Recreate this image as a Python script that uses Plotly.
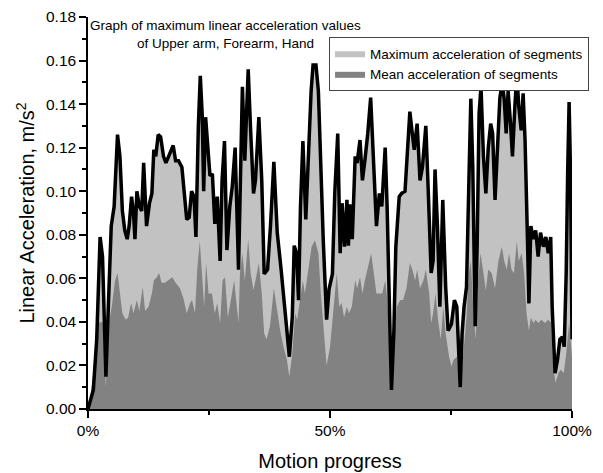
import plotly.graph_objects as go

# ---- data (Motion progress in %, acceleration in m/s^2) ----
max_progress = [0.0, 0.4, 1.1, 1.8, 2.2, 2.5, 3.0, 3.7, 4.2, 4.8, 5.4, 6.1, 6.6, 7.1, 7.6, 8.1, 8.5, 9.0, 9.4, 9.7,
                10.1, 10.6, 11.1, 11.5, 12.1, 12.7, 13.2, 13.6, 14.0, 14.5, 15.0, 15.6, 16.1, 16.6, 17.1, 17.6, 18.1,
                18.7, 19.4, 19.9, 20.4, 20.9, 21.4, 21.9, 22.3, 22.8, 23.2, 23.6, 23.9, 24.3, 24.9, 25.2, 25.7, 26.2,
                26.7, 27.3, 27.7, 28.2, 28.7, 29.3, 29.8, 30.4, 31.1, 31.4, 31.9, 32.4, 33.1, 33.6, 34.2, 34.6, 35.3,
                35.9, 36.4, 37.1, 37.7, 38.4, 39.1, 39.9, 40.7, 41.6, 42.2, 42.6, 43.1, 43.5, 43.9, 44.4, 45.0, 45.5,
                46.1, 46.5, 47.1, 47.6, 48.1, 48.6, 49.3, 49.8, 50.5, 51.0, 51.6, 52.1, 52.5, 53.0, 53.5, 53.8, 54.1,
                54.6, 55.2, 55.6, 56.2, 56.7, 57.2, 57.8, 58.4, 58.9, 59.6, 60.2, 60.7, 61.4, 61.8, 62.4, 62.7, 63.2,
                63.6, 64.3, 64.8, 65.5, 66.1, 66.5, 67.0, 67.4, 68.0, 68.6, 69.1, 69.8, 70.3, 70.9, 71.3, 71.7, 72.2,
                72.7, 73.3, 73.9, 74.4, 75.1, 75.7, 76.2, 76.9, 77.3, 77.7, 78.2, 78.7, 79.1, 79.5, 80.0, 80.4, 80.8,
                81.2, 81.7, 82.2, 82.7, 83.2, 83.6, 84.1, 84.6, 85.1, 85.6, 86.0, 86.4, 86.8, 87.3, 87.7, 88.2, 88.6,
                89.0, 89.5, 89.9, 90.3, 90.8, 91.1, 91.5, 92.0, 92.5, 93.0, 93.5, 94.1, 94.6, 95.1, 95.6, 95.9, 96.5,
                97.0, 97.5, 98.0, 98.4, 98.8, 99.1, 99.4, 99.7, 100.0]
max_accel = [0.000, 0.003, 0.0087, 0.032, 0.060, 0.079, 0.070, 0.0148, 0.047, 0.084, 0.093, 0.126, 0.116, 0.091,
             0.082, 0.078, 0.084, 0.0975, 0.090, 0.078, 0.100, 0.093, 0.091, 0.113, 0.084, 0.0945, 0.099, 0.119,
             0.116, 0.126, 0.125, 0.116, 0.113, 0.116, 0.119, 0.121, 0.114, 0.114, 0.111, 0.100, 0.087, 0.088,
             0.100, 0.0975, 0.079, 0.130, 0.153, 0.135, 0.100, 0.134, 0.112, 0.107, 0.108, 0.085, 0.0975, 0.068,
             0.105, 0.123, 0.073, 0.093, 0.102, 0.120, 0.064, 0.090, 0.148, 0.114, 0.156, 0.128, 0.099, 0.105,
             0.134, 0.105, 0.062, 0.064, 0.084, 0.1135, 0.081, 0.064, 0.044, 0.024, 0.042, 0.075, 0.0715, 0.050,
             0.093, 0.123, 0.087, 0.116, 0.146, 0.158, 0.158, 0.146, 0.111, 0.078, 0.041, 0.055, 0.062, 0.100,
             0.1265, 0.0715, 0.0945, 0.0745, 0.096, 0.075, 0.094, 0.078, 0.116, 0.113, 0.1235, 0.105, 0.114,
             0.1265, 0.143, 0.119, 0.084, 0.099, 0.093, 0.120, 0.093, 0.035, 0.0087, 0.036, 0.0745, 0.0975, 0.099,
             0.100, 0.119, 0.1365, 0.1265, 0.119, 0.131, 0.105, 0.111, 0.130, 0.100, 0.0625, 0.068, 0.110, 0.084,
             0.047, 0.096, 0.056, 0.036, 0.039, 0.050, 0.047, 0.010, 0.035, 0.047, 0.056, 0.105, 0.1425, 0.111,
             0.038, 0.0745, 0.1355, 0.148, 0.116, 0.099, 0.120, 0.131, 0.1265, 0.096, 0.1235, 0.143, 0.150, 0.142,
             0.1265, 0.146, 0.131, 0.116, 0.139, 0.154, 0.139, 0.128, 0.145, 0.1235, 0.078, 0.0485, 0.084, 0.078,
             0.082, 0.070, 0.081, 0.0745, 0.079, 0.0715, 0.079, 0.047, 0.0164, 0.0225, 0.032, 0.033, 0.0286,
             0.0625, 0.108, 0.141, 0.108, 0.032]

mean_progress = [0.0, 0.4, 1.1, 1.8, 2.1, 2.7, 3.2, 3.7, 4.2, 4.9, 5.6, 6.1, 6.6, 7.1, 7.8, 8.3, 8.9, 9.4, 10.1,
                 10.6, 11.3, 11.8, 12.5, 13.2, 13.6, 14.2, 14.7, 15.2, 15.9, 16.6, 17.4, 18.1, 19.0, 19.7, 20.4,
                 21.1, 21.5, 22.1, 22.6, 23.1, 23.6, 24.0, 24.4, 24.9, 25.6, 26.2, 26.7, 27.3, 27.8, 28.3, 28.9,
                 29.5, 30.2, 31.1, 31.4, 31.9, 32.4, 33.1, 33.6, 34.2, 34.9, 35.3, 35.9, 36.4, 36.9, 37.6, 38.4,
                 39.0, 39.7, 40.4, 41.1, 41.6, 42.2, 42.8, 43.2, 43.8, 44.4, 44.8, 45.5, 46.2, 46.9, 47.6, 48.1,
                 48.8, 49.3, 50.0, 50.7, 51.4, 51.9, 52.4, 52.9, 53.5, 53.9, 54.5, 55.2, 55.6, 56.2, 56.7, 57.2,
                 57.9, 58.5, 58.9, 59.6, 60.3, 60.8, 61.4, 61.8, 62.4, 62.7, 63.2, 63.8, 64.5, 65.1, 65.8, 66.5,
                 67.0, 67.6, 68.0, 68.6, 69.3, 69.8, 70.5, 70.9, 71.3, 71.8, 72.4, 72.9, 73.4, 73.9, 74.6, 75.1,
                 75.5, 76.2, 76.9, 77.5, 78.2, 78.7, 79.1, 79.6, 80.1, 80.6, 81.1, 81.7, 82.2, 82.7, 83.4, 84.1,
                 84.8, 85.5, 86.0, 86.5, 87.0, 87.5, 88.0, 88.6, 89.0, 89.6, 90.1, 90.6, 91.1, 91.5, 92.0, 92.5,
                 93.0, 93.7, 94.4, 95.1, 95.7, 96.1, 96.6, 97.2, 97.7, 98.3, 98.8, 99.4, 99.9, 100.0]
mean_accel = [0.000, 0.004, 0.0165, 0.035, 0.0395, 0.040, 0.0395, 0.010, 0.038, 0.047, 0.059, 0.0625, 0.053, 0.044,
              0.041, 0.042, 0.0487, 0.044, 0.050, 0.045, 0.056, 0.045, 0.047, 0.053, 0.059, 0.0605, 0.0625, 0.058,
              0.058, 0.059, 0.0605, 0.058, 0.0555, 0.051, 0.044, 0.0487, 0.050, 0.044, 0.065, 0.077, 0.0625, 0.047,
              0.067, 0.053, 0.053, 0.044, 0.0487, 0.0395, 0.059, 0.0605, 0.042, 0.050, 0.059, 0.0395, 0.0625,
              0.0715, 0.059, 0.078, 0.0625, 0.0545, 0.0625, 0.067, 0.053, 0.0347, 0.032, 0.038, 0.0555, 0.047,
              0.036, 0.0285, 0.0225, 0.0148, 0.0255, 0.044, 0.041, 0.050, 0.059, 0.053, 0.065, 0.0745, 0.0775,
              0.0715, 0.053, 0.0347, 0.020, 0.0285, 0.044, 0.0625, 0.047, 0.0487, 0.042, 0.047, 0.044, 0.047,
              0.059, 0.0555, 0.0605, 0.053, 0.059, 0.065, 0.0715, 0.065, 0.053, 0.053, 0.053, 0.059, 0.051,
              0.0285, 0.0087, 0.032, 0.047, 0.050, 0.050, 0.0555, 0.067, 0.064, 0.059, 0.064, 0.0555, 0.059,
              0.064, 0.053, 0.0395, 0.044, 0.053, 0.0395, 0.032, 0.047, 0.0347, 0.024, 0.0195, 0.0225, 0.024,
              0.0087, 0.0225, 0.042, 0.0625, 0.068, 0.047, 0.032, 0.059, 0.0715, 0.0625, 0.0545, 0.064, 0.0625,
              0.0555, 0.068, 0.0745, 0.068, 0.064, 0.0715, 0.064, 0.0625, 0.077, 0.068, 0.0715, 0.0625, 0.044,
              0.036, 0.042, 0.0395, 0.041, 0.0395, 0.041, 0.0395, 0.041, 0.0395, 0.0195, 0.012, 0.0165, 0.018,
              0.0165, 0.0255, 0.0395, 0.024, 0.024]

y_ticks = [0.00, 0.02, 0.04, 0.06, 0.08, 0.10, 0.12, 0.14, 0.16, 0.18]
x_ticks = [0, 50, 100]
x_tick_labels = ["0%", "50%", "100%"]

FONT = "Arial, Liberation Sans, sans-serif"
LIGHT = "#c2c2c2"
DARK = "#828282"

fig = go.Figure()
fig.add_trace(go.Scatter(x=max_progress, y=max_accel, mode="lines", fill="tozeroy",
                         fillcolor=LIGHT, line=dict(width=0, color=LIGHT),
                         name="Maximum acceleration of segments"))
fig.add_trace(go.Scatter(x=mean_progress, y=mean_accel, mode="lines", fill="tozeroy",
                         fillcolor=DARK, line=dict(width=0, color=DARK),
                         name="Mean acceleration of segments"))
fig.add_trace(go.Scatter(x=max_progress, y=max_accel, mode="lines",
                         line=dict(width=3.5, color="black"), showlegend=False))

# the page body adds an 8px margin, so the figure is sized to sit inside the window
fig.update_layout(
    width=595, height=465,
    margin=dict(l=80, r=31, t=9, b=64, autoexpand=False),
    paper_bgcolor="white", plot_bgcolor="white",
    font=dict(family=FONT, color="black"),
    showlegend=True,
    legend=dict(x=0.498, y=0.949, xanchor="left", yanchor="top",
                bordercolor="#444", borderwidth=1, bgcolor="white",
                font=dict(size=13.5, family=FONT), tracegroupgap=0,
                itemwidth=30),
    annotations=[dict(text="Graph of maximum linear acceleration values<br>of Upper arm, Forearm, Hand",
                      x=0.285, y=0.956, xref="paper", yref="paper", showarrow=False,
                      align="center", xanchor="center", yanchor="middle",
                      font=dict(size=13.5, family=FONT))],
)
fig.update_xaxes(range=[0, 100], tickmode="array", tickvals=x_ticks, ticktext=x_tick_labels,
                 showline=True, linecolor="black", linewidth=1.5, mirror=False,
                 ticks="outside", ticklen=7, tickwidth=1.5, tickcolor="black",
                 minor=dict(dtick=25, ticks="outside", ticklen=4, tickwidth=1.5, tickcolor="black"),
                 showgrid=False, zeroline=False, automargin=False,
                 tickfont=dict(size=15.5),
                 title=dict(text="Motion progress", font=dict(size=20), standoff=16))
fig.update_yaxes(range=[0, 0.18], tickmode="array", tickvals=y_ticks, tickformat=".2f",
                 showline=True, linecolor="black", linewidth=1.5, mirror=False,
                 ticks="outside", ticklen=7, tickwidth=1.5, tickcolor="black",
                 minor=dict(dtick=0.01, ticks="outside", ticklen=4, tickwidth=1.5, tickcolor="black"),
                 showgrid=False, zeroline=False, automargin=False,
                 tickfont=dict(size=15.5),
                 title=dict(text="Linear Acceleration, m/s<sup>2</sup>", font=dict(size=20), standoff=6))

fig.write_html("out.html")
